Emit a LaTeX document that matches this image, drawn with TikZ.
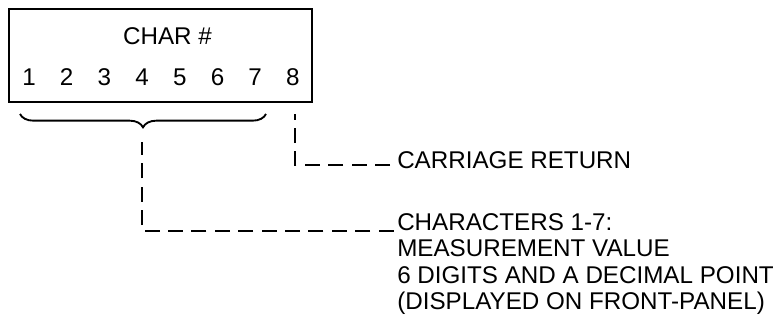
\documentclass[tikz,border=0pt]{standalone}
\usepackage{fontspec}
\setmainfont{Liberation Sans}
\usetikzlibrary{decorations.pathreplacing, calc}

\begin{document}
\begin{tikzpicture}[
    x=0.75pt, y=-0.75pt,
    every node/.style={font=\fontsize{18.15}{19.9}\selectfont, inner sep=0pt},
    frame/.style={rectangle, draw, line width=1.5pt, minimum width=227.25pt, minimum height=69.75pt},
    note/.style={anchor=base west},
    leader/.style={line width=1.4pt, dash pattern=on 11.25pt off 6.3pt},
    curly/.style={decorate, decoration={brace, mirror, amplitude=10pt}, line width=1.4pt}
]
    \useasboundingbox (0,0) rectangle (777,328);

    % Character frame
    \node[frame] (frame) at (160.5,55.5) {};
    \node[anchor=base] (title) at (167.5,45) {CHAR \#};
    \foreach \d in {1,...,8}
        \node[anchor=base] (d\d) at ({29+37.7*(\d-1)},85) {\d};

    % Brace under 1-7
    \coordinate (braceL) at (20,114);
    \coordinate (braceR) at (266,114);
    \coordinate (braceTip) at (142,128);
    \draw[curly] (braceL) -- (braceR);

    % Labels
    \node[note] (cr) at (397,168) {CARRIAGE RETURN};
    \node[note] (values) at (397,230) {\begin{tabular}[t]{@{}l@{}}CHARACTERS 1-7:\\MEASUREMENT VALUE\\6 DIGITS AND A DECIMAL POINT\\(DISPLAYED ON FRONT-PANEL)\end{tabular}};

    % Leaders (drawn from the text back to the frame)
    \coordinate (crTop) at (295,114);
    \draw[leader] ($(cr.base west)+(-7,-3)$) -| (crTop);
    \draw[leader, shorten >=10.5pt] ($(values.base west)+(-3.5,1)$) -| (braceTip);

\end{tikzpicture}
\end{document}
